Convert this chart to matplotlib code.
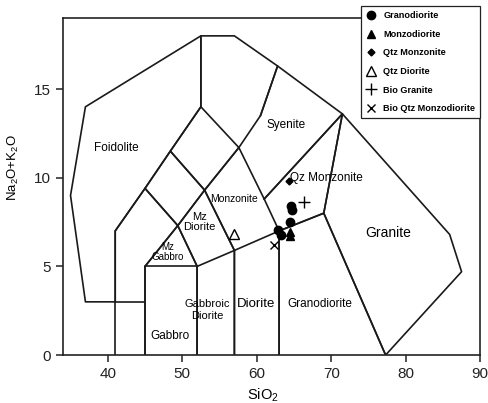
import matplotlib
matplotlib.use("Agg")
import matplotlib.pyplot as plt

plt.rcParams['font.family'] = ['Liberation Sans', 'DejaVu Sans']
plt.rcParams['mathtext.fontset'] = 'custom'
plt.rcParams['mathtext.rm'] = 'Liberation Sans'
plt.rcParams['mathtext.it'] = 'Liberation Sans'

# field boundaries (SiO2, Na2O+K2O)
foidolite = [(41, 3), (37, 3), (35, 9), (37, 14), (52.5, 18), (52.5, 14), (48.4, 11.5), (45, 9.4), (41, 7), (41, 3)]
peridotgabbro = [(41, 0), (41, 3), (45, 3), (45, 0)]
foid_gabbro = [(41, 3), (41, 7), (45, 9.4), (49.4, 7.3), (45, 5), (45, 3)]
gabbro = [(45, 0), (45, 5), (52, 5), (52, 0)]
gabbroic_diorite = [(52, 0), (52, 5), (57, 5.9), (57, 0)]
diorite = [(57, 0), (57, 5.9), (63, 7), (63, 0)]
granodiorite = [(63, 0), (63, 7), (69, 8), (77.3, 0)]
granite = [(77.3, 0), (69, 8), (71.5, 13.6), (85.9, 6.8), (87.5, 4.7), (77.3, 0)]
mz_gabbro = [(45, 5), (49.4, 7.3), (52, 5)]
mz_diorite = [(52, 5), (49.4, 7.3), (53, 9.3), (57, 5.9)]
monzonite = [(57, 5.9), (53, 9.3), (57.6, 11.7), (61, 8.8), (63, 7)]
foid_monzodiorite = [(49.4, 7.3), (45, 9.4), (48.4, 11.5), (53, 9.3), (49.4, 7.3)]
foid_monzosyenite = [(53, 9.3), (48.4, 11.5), (52.5, 14), (57.6, 11.7), (53, 9.3)]
foid_syenite = [(52.5, 14), (52.5, 18), (57, 18), (62.8, 16.3), (60.5, 13.5), (57.6, 11.7)]
syenite = [(60.5, 13.5), (62.8, 16.3), (71.5, 13.6), (61, 8.8)]
qz_monzonite = [(61, 8.8), (71.5, 13.6), (69, 8), (63, 7)]

fields = [foidolite, peridotgabbro, foid_gabbro, gabbro, gabbroic_diorite, diorite,
          granodiorite, granite, mz_gabbro, mz_diorite, monzonite, foid_monzodiorite,
          foid_monzosyenite, foid_syenite, syenite, qz_monzonite]

# samples
grd_sio2 = [64.6, 64.8, 64.4, 62.8, 63.3]
grd_alk = [8.4, 8.2, 7.5, 7.05, 6.75]
mzd_sio2 = [64.5, 64.5]
mzd_alk = [6.7, 6.95]
qmz_sio2 = [64.3]
qmz_alk = [9.8]
qd_sio2 = [56.9]
qd_alk = [6.8]
bgr_sio2 = [66.3]
bgr_alk = [8.65]
bqm_sio2 = [62.3]
bqm_alk = [6.2]

fig = plt.figure(figsize=(4.89, 4.03), dpi=100)
ax = fig.add_axes([0.129, 0.119, 0.853, 0.836])

for f in fields:
    xs = [p[0] for p in f]
    ys = [p[1] for p in f]
    ax.plot(xs, ys, color='#1a1a1a', lw=1.2, zorder=1)

# field names
ax.text(41.2, 11.7, 'Foidolite', fontsize=8.5, ha='center', va='center')
ax.text(64.0, 13.0, 'Syenite', fontsize=8.5, ha='center', va='center')
ax.text(64.4, 10.0, 'Qz Monzonite', fontsize=8.5, ha='left', va='center')
ax.text(57.0, 8.8, 'Monzonite', fontsize=7.5, ha='center', va='center')
ax.text(52.3, 7.5, 'Mz\nDiorite', fontsize=8, ha='center', va='center', linespacing=1.1)
ax.text(48.1, 5.8, 'Mz\nGabbro', fontsize=7, ha='center', va='center', linespacing=1.0)
ax.text(53.3, 2.55, 'Gabbroic\nDiorite', fontsize=8, ha='center', va='center', linespacing=1.2)
ax.text(48.3, 1.1, 'Gabbro', fontsize=8.5, ha='center', va='center')
ax.text(59.9, 2.9, 'Diorite', fontsize=9.5, ha='center', va='center')
ax.text(68.5, 2.9, 'Granodiorite', fontsize=8.5, ha='center', va='center')
ax.text(77.7, 6.9, 'Granite', fontsize=10, ha='center', va='center')

ax.plot(grd_sio2, grd_alk, 'o', color='k', ms=6, ls='none', label='Granodiorite', zorder=3)
ax.plot(mzd_sio2, mzd_alk, '^', color='k', ms=6, ls='none', label='Monzodiorite', zorder=3)
ax.plot(qmz_sio2, qmz_alk, 'D', color='k', ms=3.5, ls='none', label='Qtz Monzonite', zorder=3)
ax.plot(qd_sio2, qd_alk, '^', mfc='none', mec='k', ms=7, ls='none', label='Qtz Diorite', zorder=3)
ax.plot(bgr_sio2, bgr_alk, '+', color='k', ms=9, mew=1.0, ls='none', label='Bio Granite', zorder=3)
ax.plot(bqm_sio2, bqm_alk, 'x', color='k', ms=6, mew=1.0, ls='none', label='Bio Qtz Monzodiorite', zorder=3)

ax.set_xlim(34, 90)
ax.set_ylim(0, 19)
ax.set_xticks([40, 50, 60, 70, 80, 90])
ax.set_yticks([0, 5, 10, 15])
ax.tick_params(labelsize=11, length=5, width=1.1, colors='#222222')
for s in ax.spines.values():
    s.set_linewidth(1.2)
    s.set_color('#222222')
ax.set_xlabel('SiO$_2$', fontsize=10.5)
ax.xaxis.set_label_coords(0.48, -0.095)
ax.set_ylabel('Na$_2$O+K$_2$O', fontsize=9.5)
ax.yaxis.set_label_coords(-0.1, 0.555)

leg = fig.legend(loc='upper left', bbox_to_anchor=(0.738, 0.985), bbox_transform=fig.transFigure,
                 prop={'weight': 'bold', 'size': 6.6}, frameon=True, fancybox=False,
                 edgecolor='#222222', framealpha=1, handlelength=1.0, handletextpad=0.9,
                 labelspacing=1.05, borderpad=0.55, borderaxespad=0)
leg.get_frame().set_linewidth(0.9)

fig.savefig('out.png', dpi=100)
